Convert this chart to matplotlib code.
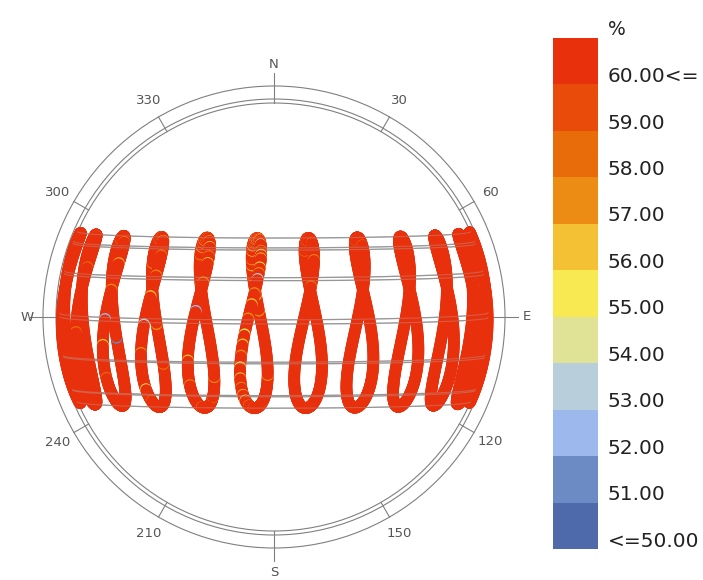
import numpy as np
import matplotlib
matplotlib.use("Agg")
import matplotlib.pyplot as plt
from matplotlib.colors import ListedColormap, BoundaryNorm
from matplotlib.patches import Circle

# ---------------- data ----------------
LATITUDE = 1.8
LONGITUDE = 110.3
TIMEZONE = 7
HOURS = [6, 7, 8, 9, 10, 11, 12, 13, 14, 15, 16, 17]
DAYPATH_MONTHS = [1, 2, 3, 4, 5, 6, 7, 8, 9, 10, 11, 12]
BASE_RH = 75  # almost every hour reads >= 60 %

# hours where relative humidity fell below 60 % (hour, month, day, RH %)
SPECKLES = [
    (12, 3, 30, 57), (12, 4, 10, 56), (12, 4, 25, 58), (12, 5, 4, 56), (12, 5, 10, 57),
    (12, 5, 20, 56), (12, 5, 28, 55), (12, 6, 2, 58), (12, 6, 5, 57), (12, 6, 12, 56),
    (12, 6, 17, 53), (12, 6, 20, 55), (12, 6, 24, 58), (12, 6, 28, 57), (12, 7, 3, 55),
    (12, 7, 6, 56), (12, 7, 10, 58), (12, 7, 15, 54), (12, 7, 25, 57), (12, 7, 30, 55),
    (12, 8, 3, 56), (12, 8, 12, 55), (12, 8, 17, 57), (12, 8, 22, 53), (12, 9, 2, 57),
    (12, 9, 10, 56), (12, 9, 20, 57), (12, 10, 1, 55), (12, 10, 8, 56), (12, 10, 16, 57),
    (12, 10, 25, 55), (12, 11, 3, 56), (12, 11, 12, 57), (12, 11, 20, 56), (12, 11, 28, 55),
    (12, 12, 8, 57), (12, 12, 20, 58), (12, 1, 15, 58), (12, 2, 12, 57),
    (13, 1, 20, 58), (13, 2, 10, 57), (13, 4, 20, 58), (13, 5, 15, 57), (13, 5, 25, 56),
    (13, 6, 1, 57), (13, 6, 8, 55), (13, 6, 15, 56), (13, 6, 24, 57), (13, 7, 1, 57),
    (13, 7, 9, 56), (13, 7, 20, 55), (13, 8, 1, 57), (13, 8, 8, 56), (13, 8, 25, 57),
    (13, 9, 15, 52), (13, 10, 20, 56), (13, 11, 10, 57), (13, 12, 15, 57),
    (14, 1, 10, 57), (14, 2, 20, 58), (14, 3, 20, 57), (14, 5, 5, 57), (14, 6, 10, 57),
    (14, 6, 25, 56), (14, 7, 10, 56), (14, 8, 1, 57), (14, 8, 20, 57), (14, 9, 5, 56),
    (14, 9, 25, 53), (14, 10, 15, 57), (14, 11, 15, 55), (14, 12, 1, 58),
    (15, 1, 5, 58), (15, 3, 10, 51), (15, 4, 15, 57), (15, 6, 5, 57), (15, 6, 20, 58),
    (15, 7, 15, 57), (15, 8, 10, 56), (15, 9, 1, 57), (15, 9, 22, 52), (15, 10, 10, 56),
    (15, 11, 5, 58),
    (11, 5, 20, 58), (11, 6, 10, 57), (11, 6, 25, 58), (11, 7, 12, 58), (11, 8, 5, 57),
    (11, 8, 28, 58),
    (10, 6, 8, 58), (10, 7, 18, 58),
    (16, 7, 5, 58), (16, 8, 15, 58), (16, 10, 2, 58),
]

LEGEND_COLORS = ["#4E6AAA", "#6C8AC4", "#9CB8EC", "#B8CEDA", "#E0E296", "#F8E852",
                 "#F4C034", "#EC8C14", "#E86C0A", "#E84B0A", "#E8300C"]
LEGEND_LABELS = ["<=50.00", "51.00", "52.00", "53.00", "54.00", "55.00",
                 "56.00", "57.00", "58.00", "59.00", "60.00<="]
LEGEND_TITLE = "%"
COMPASS_MAJOR = ["N", "E", "S", "W"]
COMPASS_MINOR = [30, 60, 120, 150, 210, 240, 300, 330]

# ---------------- geometry helpers ----------------
CX, CY = 274.0, 317.0
R_H = 214.0
MONTH_START = np.cumsum([0, 31, 28, 31, 30, 31, 30, 31, 31, 30, 31, 30])


def doy(month, day):
    return MONTH_START[month - 1] + day


def sun_xy(day_of_year, hour):
    g = 2 * np.pi / 365 * (day_of_year - 1 + (hour - 12) / 24)
    eqt = 229.18 * (0.000075 + 0.001868 * np.cos(g) - 0.032077 * np.sin(g)
                    - 0.014615 * np.cos(2 * g) - 0.040849 * np.sin(2 * g))
    dec = (0.006918 - 0.399912 * np.cos(g) + 0.070257 * np.sin(g)
           - 0.006758 * np.cos(2 * g) + 0.000907 * np.sin(2 * g)
           - 0.002697 * np.cos(3 * g) + 0.00148 * np.sin(3 * g))
    tst = hour * 60 + eqt + 4 * LONGITUDE - 60 * TIMEZONE
    ha = np.radians(tst / 4 - 180)
    phi = np.radians(LATITUDE)
    up = np.sin(phi) * np.sin(dec) + np.cos(phi) * np.cos(dec) * np.cos(ha)
    east = -np.cos(dec) * np.sin(ha)
    north = np.sin(dec) * np.cos(phi) - np.cos(dec) * np.sin(phi) * np.cos(ha)
    return CX + R_H * east, CY - R_H * north, up


# ---------------- figure ----------------
fig = plt.figure(figsize=(7.03, 5.80), dpi=100)
ax = fig.add_axes([0, 0, 1, 1])
ax.set_xlim(0, 703)
ax.set_ylim(580, 0)
ax.axis("off")

ring_col = "#808080"
for r in (231, 218, 214):
    ax.add_patch(Circle((CX, CY), r, fill=False, ec=ring_col, lw=0.8, zorder=1))

# minor ticks and labels
for a in COMPASS_MINOR:
    t = np.radians(a)
    ax.plot([CX + 214 * np.sin(t), CX + 231 * np.sin(t)],
            [CY - 214 * np.cos(t), CY - 231 * np.cos(t)], color=ring_col, lw=0.8, zorder=1)
    ax.text(CX + 250 * np.sin(t), CY - 250 * np.cos(t), str(a), ha="center", va="center",
            fontsize=9.5, color="#555555")
for i, (lab, rl) in enumerate(zip(COMPASS_MAJOR, (252, 253, 255, 247))):
    t = np.radians(90 * i)
    ax.plot([CX + 214 * np.sin(t), CX + 244 * np.sin(t)],
            [CY - 214 * np.cos(t), CY - 244 * np.cos(t)], color=ring_col, lw=0.8, zorder=1)
    ax.text(CX + rl * np.sin(t), CY - rl * np.cos(t), lab, ha="center", va="center",
            fontsize=9.5, color="#555555")

# day paths
hh = np.arange(0, 24.001, 0.02)
paths = []
for m in DAYPATH_MONTHS:
    x, y, up = sun_xy(doy(m, 21), hh)
    paths.append((np.where(up > 0, x, np.nan), np.where(up > 0, y, np.nan)))
for x, y in paths:
    ax.plot(x, y, color="#8a8a8a", lw=0.9, zorder=2)

# hourly humidity
cmap = ListedColormap(LEGEND_COLORS[1:-1])
cmap.set_under(LEGEND_COLORS[0])
cmap.set_over(LEGEND_COLORS[-1])
norm = BoundaryNorm(np.arange(50.5, 60.0, 1.0), ncolors=cmap.N)

speck = {(h, doy(m, d)): v for h, m, d, v in SPECKLES}
days = np.arange(1, 366)
for h in HOURS:
    x, y, up = sun_xy(days, h)
    rh = np.array([speck.get((h, d), BASE_RH) for d in days], dtype=float)
    keep = up > 0
    ax.scatter(x[keep], y[keep], c=rh[keep], cmap=cmap, norm=norm, s=72,
               edgecolors="none", zorder=3)

# day paths faintly over the analemmas
for x, y in paths:
    ax.plot(x, y, color="#b0b0b0", lw=0.8, alpha=0.35, zorder=4)

# legend
lx0, ly0, lw_, lh = 553, 38, 45, 511
cax = fig.add_axes([lx0 / 703, 1 - (ly0 + lh) / 580, lw_ / 703, lh / 580])
n = len(LEGEND_COLORS)
cax.bar(np.zeros(n), np.ones(n), bottom=np.arange(n), width=1.0,
        color=LEGEND_COLORS, edgecolor="none")
cax.set_xlim(-0.5, 0.5)
cax.set_ylim(0, n)
cax.axis("off")
for i, lab in enumerate(LEGEND_LABELS):
    cax.text(1.22, i + 0.17, lab, transform=cax.get_yaxis_transform(), ha="left",
             va="center", fontsize=14.5, color="#222222")
cax.text(1.22, n + 0.18, LEGEND_TITLE, transform=cax.get_yaxis_transform(),
         ha="left", va="center", fontsize=13.5, color="#222222")

fig.savefig("out.png", dpi=100)
